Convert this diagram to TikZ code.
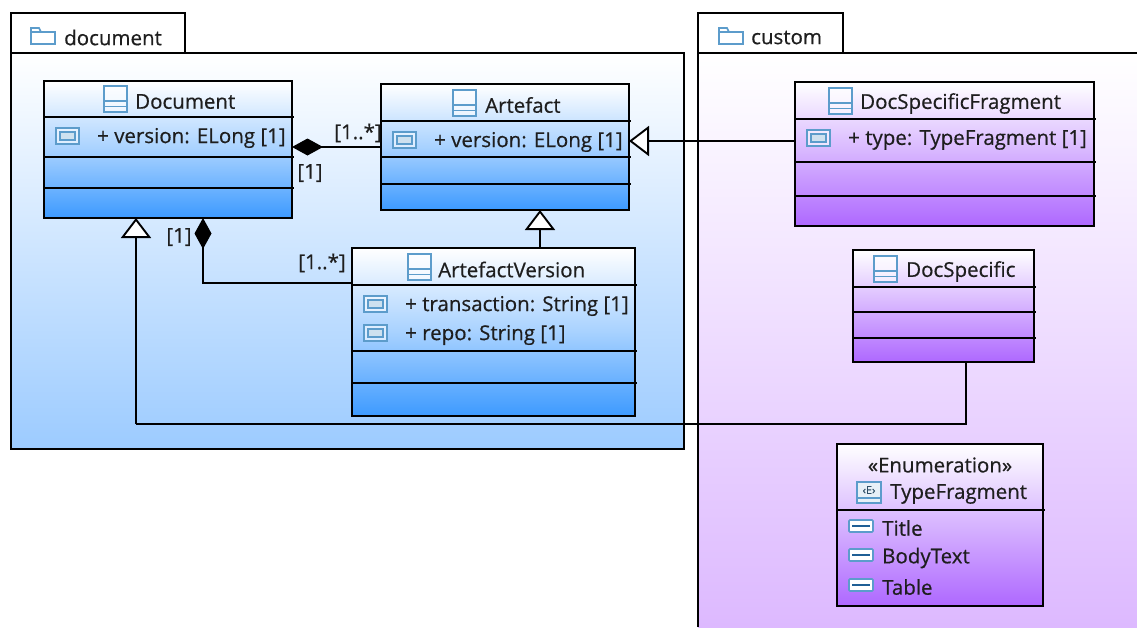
\documentclass[tikz,border=0pt]{standalone}
\usepackage{fontspec}
\setmainfont{Open Sans}[FakeBold=0.5]
\usetikzlibrary{arrows.meta,calc}
\definecolor{ink}{HTML}{1E1E1E}
\definecolor{iconblue}{HTML}{5C9CCB}
\definecolor{litblue}{HTML}{1F5F95}
\definecolor{bluebot}{HTML}{3D9AFF}
\definecolor{purpbot}{HTML}{AE68FF}
\definecolor{pkgblue}{HTML}{9CCBFF}
\definecolor{pkgpurp}{HTML}{DDB9FF}
\tikzset{
  txt/.style={inner sep=0pt,text=ink,font=\fontsize{20.5}{24}\selectfont},
  lab/.style={txt,anchor=west},
  mult/.style={txt,anchor=center},
  box/.style={draw=black,line width=1.8pt,rectangle,anchor=north west,inner sep=0pt,outer sep=0pt},
  bluebox/.style={box,top color=white,bottom color=bluebot,middle color=bluemid},
  purpbox/.style={box,top color=white,bottom color=purpbot,middle color=purpmid},
  divider/.style={black,line width=1.5pt},
  wire/.style={black,line width=1.9pt},
  gen/.style={wire,-{Triangle[fill=white,length=20pt,width=30pt,line width=1.9pt]}},
  comp/.style={wire,{Diamond[length=31pt,width=17pt]}-},
  tabbox/.style={box,fill=white,minimum height=40pt},
  icn/.style={draw=iconblue,line width=1.3pt},
}
\colorlet{bluemid}{bluebot!45!white}
\colorlet{purpmid}{purpbot!50!white}
% class box: style, name, x, y, w, h
\newcommand{\classbox}[6]{\node[#1,minimum width=#5pt,minimum height=#6pt] (#2) at (#3,#4) {};}
% divider line at height y, from x1 to x2
\newcommand{\divline}[3]{\draw[divider] (#1,#3) -- (#2,#3);}
% class icon with its top-left corner
\newcommand{\classicon}[2]{%
  \begin{scope}[shift={(#1,#2)}]
    \fill[white,opacity=.55] (0,0) rectangle (23,26);
    \draw[icn,line width=1.6pt] (0,0) rectangle (23,26);
    \draw[icn] (0,15) -- (23,15) (0,20.5) -- (23,20.5);
  \end{scope}}
% attribute icon with its top-left corner
\newcommand{\attricon}[2]{%
  \begin{scope}[shift={(#1,#2)}]
    \fill[white,opacity=.6] (0,0) rectangle (23,16);
    \draw[icn] (0,0) rectangle (23,16);
    \draw[icn,fill=white!70!iconblue] (4,4) rectangle (19,12);
  \end{scope}}
% enumeration literal icon with its top-left corner
\newcommand{\liticon}[2]{%
  \begin{scope}[shift={(#1,#2)}]
    \draw[icn,fill=white,rounded corners=1pt,line width=1.6pt] (0,0) rectangle (24,12);
    \draw[litblue,line width=1.6pt] (3,6) -- (21,6);
  \end{scope}}
\begin{document}
\begin{tikzpicture}[x=1pt,y=-1pt]
\useasboundingbox[fill=white] (0,0) rectangle (1137,627);

% packages
\node[box,top color=white,bottom color=pkgblue,minimum width=673pt,minimum height=396pt] (pkgdoc) at (11,53) {};
\node[tabbox,minimum width=174pt] (tabdoc) at (11,13) {};
\node[anchor=north west,inner sep=0pt,outer sep=0pt,top color=white,bottom color=pkgpurp,minimum width=439pt,minimum height=574pt] (pkgcus) at (698,53) {};
\draw[box] (pkgcus.south west) -- (pkgcus.north west) -- (pkgcus.north east);
\node[tabbox,minimum width=145pt] (tabcus) at (698,13) {};
\foreach \nm/\x in {doc/31,cus/719}{
  \begin{scope}[shift={(\x,27)}]
    \draw[icn,line width=1.6pt] (0,3) -- (0,17) -- (24,17) -- (24,5) -- (10,5) -- (8,1) -- (0,1) -- cycle;
    \draw[icn] (0,5) -- (10,5);
  \end{scope}}
\node[lab] (tdoc) at (64,37.5) {document};
\node[lab] (tcus) at (751,37.5) {custom};

% Document
\classbox{bluebox}{doc}{44}{81}{248}{137}
\divline{44}{294}{117}\divline{44}{294}{157}\divline{44}{294}{188}
\classicon{104}{86}
\node[lab] (doct) at (135,101.5) {Document};
\attricon{56}{128}
\node[lab] (doca) at (97,138) {+ version: ELong [1]};

% Artefact
\classbox{bluebox}{art}{381}{84}{248}{126}
\divline{381}{631}{121}\divline{381}{631}{157}\divline{381}{631}{184}
\classicon{453}{90}
\node[lab] (artt) at (485,105) {Artefact};
\attricon{393}{132}
\node[lab] (arta) at (434,142) {+ version: ELong [1]};

% ArtefactVersion
\classbox{bluebox}{ver}{352}{248}{283}{168}
\divline{352}{637}{285}\divline{352}{637}{351}\divline{352}{637}{383}
\classicon{408}{254}
\node[lab] (vert) at (438,269.5) {ArtefactVersion};
\attricon{364}{296}
\node[lab] (vera) at (405,306) {+ transaction: String [1]};
\attricon{364}{325}
\node[lab] (verb) at (405,335) {+ repo: String [1]};

% DocSpecificFragment
\classbox{purpbox}{dsf}{795}{82}{299}{144}
\divline{795}{1096}{119}\divline{795}{1096}{162}\divline{795}{1096}{196}
\classicon{829}{88}
\node[lab] (dsft) at (860,103.5) {DocSpecificFragment};
\attricon{807}{130}
\node[lab] (dsfa) at (848,140) {+ type: TypeFragment [1]};

% DocSpecific
\classbox{purpbox}{ds}{853}{250}{181}{112}
\divline{853}{1036}{287}\divline{853}{1036}{312}\divline{853}{1036}{338}
\classicon{874}{256}
\node[lab] (dst) at (906,271.5) {DocSpecific};

% TypeFragment
\classbox{purpbox}{en}{837}{444}{206}{162}
\divline{837}{1045}{510}
\node[txt] (ens) at (940,465) {«Enumeration»};
\begin{scope}[shift={(857,482)}]
  \draw[icn,fill=white!85!iconblue,line width=1.6pt] (0,0) rectangle (24,21);
  \draw[icn] (0,16) -- (24,16);
  \node[inner sep=0pt,text=iconblue!50!black,font=\fontsize{11}{11}\selectfont] (enico) at (12,8) {‹E›};
\end{scope}
\node[lab] (ent) at (890,494) {TypeFragment};
\liticon{849}{520}
\node[lab] (en1) at (882,528) {Title};
\liticon{849}{549}
\node[lab] (en2) at (882,558) {BodyText};
\liticon{849}{579}
\node[lab] (en3) at (882,587) {Table};

% connectors
\coordinate (bendA) at (203,283);
\coordinate (bendB) at (966,424);
\coordinate (bendC) at (136,424);
\coordinate (artin) at (540,210);
\coordinate (dsfout) at (795,141);
\draw[comp] (art.west -| doc.east) -- (art.west);
\draw[gen] (dsfout) -- (dsfout -| art.east);
\draw[gen] (artin |- ver.north) -- (artin);
\draw[comp] (bendA |- doc.south) -- (bendA) -- (bendA -| ver.west);
\draw[wire] (bendB |- ds.south) -- (bendB) -- (bendC);
\draw[gen] (bendC) -- (bendC |- doc.south);

% multiplicities
\node[mult] (m1) at (358,133) {[1..*]};
\node[mult] (m2) at (310,173) {[1]};
\node[mult] (m3) at (179,237) {[1]};
\node[mult] (m4) at (322,263) {[1..*]};
\end{tikzpicture}
\end{document}
